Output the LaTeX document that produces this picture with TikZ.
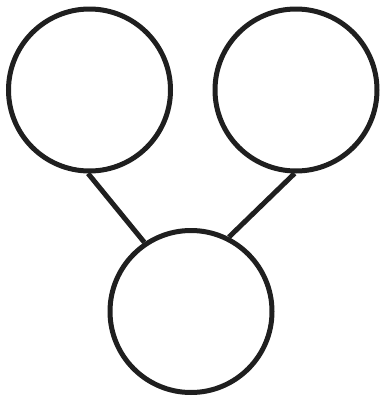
\documentclass[tikz,border=0pt]{standalone}
\begin{document}
\begin{tikzpicture}[x=1pt,y=-1pt,
  ball/.style={circle,draw=black!88,line width=5pt,minimum size=162pt,inner sep=0pt},
  link/.style={draw=black!88,line width=5pt}]
\useasboundingbox (0,0) rectangle (380,399);
\node[ball] (l) at (89.5,90) {};
\node[ball] (r) at (296,90) {};
\node[ball] (b) at (191,311.5) {};
\draw[link] (l.-91) -- (b.124);
\draw[link] (r.-91) -- (b.63);
\end{tikzpicture}
\end{document}
